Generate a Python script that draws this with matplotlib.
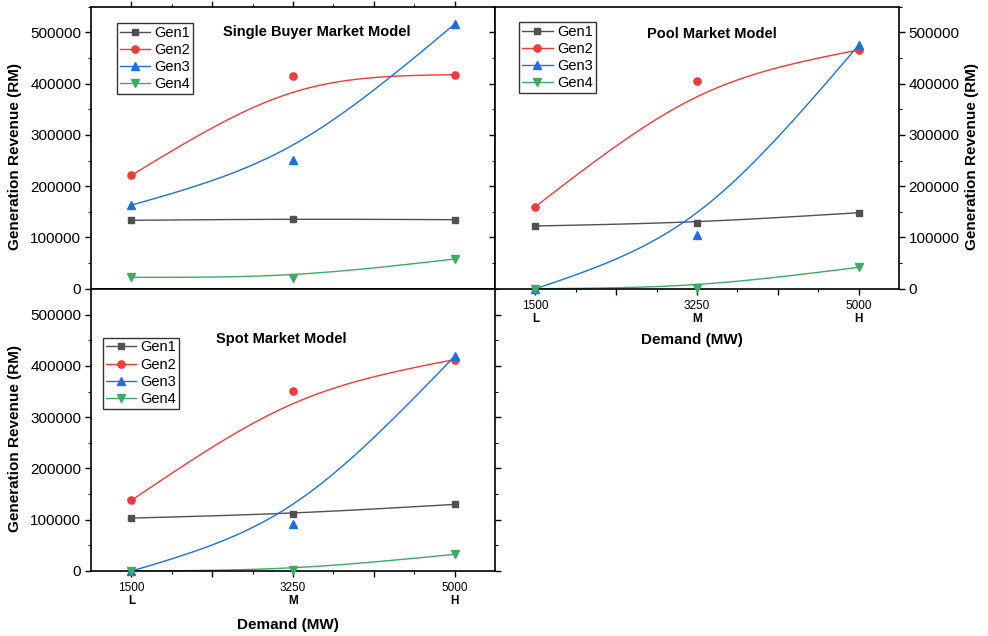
"""Generation revenue vs demand for three market models (Origin-style panels)."""

import matplotlib

matplotlib.use("Agg")
import matplotlib.pyplot as plt
import numpy as np
from matplotlib.lines import Line2D
from matplotlib.ticker import MultipleLocator, FixedLocator

plt.rcParams["font.family"] = ["Liberation Sans", "DejaVu Sans"]

# ---- data -------------------------------------------------------------
demand = [1500, 3250, 5000]
levels = ["L", "M", "H"]
gens = ["Gen1", "Gen2", "Gen3", "Gen4"]

single_buyer = {
    "Gen1": [133400, 136000, 134600],
    "Gen2": [221000, 414800, 417300],
    "Gen3": [163000, 251000, 516000],
    "Gen4": [22200, 21600, 57900],
}
pool = {
    "Gen1": [122300, 128700, 148200],
    "Gen2": [160000, 405000, 465500],
    "Gen3": [0, 104000, 475000],
    "Gen4": [0, 2000, 41700],
}
spot = {
    "Gen1": [103200, 111600, 129900],
    "Gen2": [137700, 352000, 412300],
    "Gen3": [0, 91000, 418800],
    "Gen4": [0, 1500, 32500],
}

colors = {"Gen1": "#505050", "Gen2": "#EE3B3B", "Gen3": "#1F6FDD", "Gen4": "#3DAA66"}
markers = {"Gen1": "s", "Gen2": "o", "Gen3": "^", "Gen4": "v"}
msizes = {"Gen1": 4.6, "Gen2": 5.2, "Gen3": 5.4, "Gen4": 5.4}


def smooth(x, y, n=120, w=8.0 / 9.0):
    """Origin-like B-spline connector: cubic Bezier pulled toward the middle point."""
    p0 = np.array([x[0], y[0]], float)
    p1 = np.array([x[1], y[1]], float)
    p2 = np.array([x[2], y[2]], float)
    c1 = p0 + w * (p1 - p0)
    c2 = p2 + w * (p1 - p2)
    t = np.linspace(0, 1, n)[:, None]
    pts = ((1 - t) ** 3) * p0 + 3 * ((1 - t) ** 2) * t * c1 + 3 * (1 - t) * t ** 2 * c2 + t ** 3 * p2
    return pts[:, 0], pts[:, 1]


def draw_panel(ax, data, title, title_xy, legend_xy, ylab_side="left", xlabel_y=None):
    for g in gens:
        sx, sy = smooth(demand, data[g])
        ax.plot(sx, sy, color=colors[g], lw=1.0, zorder=2)
        ax.plot(demand, data[g], ls="none", marker=markers[g], ms=msizes[g],
                color=colors[g], mec=colors[g], zorder=3, clip_on=False)

    ax.set_xlim(1062.5, 5437.5)
    ax.set_ylim(0, 550000)
    ax.xaxis.set_major_locator(FixedLocator([1500, 2375, 3250, 4125, 5000]))
    ax.xaxis.set_minor_locator(FixedLocator([1937.5, 2812.5, 3687.5, 4562.5]))
    ax.set_xticklabels(["1500", "", "3250", "", "5000"])
    ax.yaxis.set_major_locator(MultipleLocator(100000))
    ax.yaxis.set_minor_locator(MultipleLocator(50000))
    ax.tick_params(which="major", direction="out", length=4, width=1.0, labelsize=11, pad=3)
    ax.tick_params(which="minor", direction="out", length=2.2, width=0.8)
    ax.tick_params(axis="x", which="major", labelsize=8.5, pad=4.2)
    for sp in ax.spines.values():
        sp.set_linewidth(1.2)

    trans = ax.get_xaxis_transform()
    for xv, lv in zip(demand, levels):
        ax.text(xv, -0.108, lv, transform=trans, ha="center", va="center",
                fontsize=8.5, fontweight="bold")

    ax.set_ylabel("Generation Revenue (RM)", fontsize=11, fontweight="bold")
    if ylab_side == "right":
        ax.yaxis.tick_right()
        ax.tick_params(axis="y", which="both", left=True, right=True, labelleft=False, labelright=True)
        ax.yaxis.set_label_position("right")
        ax.yaxis.set_label_coords(1.163, 0.47)
    else:
        ax.yaxis.set_label_coords(-0.170, 0.47)

    if xlabel_y is not None:
        ax.set_xlabel("Demand (MW)", fontsize=11, fontweight="bold")
        ax.xaxis.set_label_coords(0.488, xlabel_y)

    ax.text(title_xy[0], title_xy[1], title, transform=ax.transAxes, ha="center",
            va="center", fontsize=10.5, fontweight="bold")

    handles = [Line2D([], [], color=colors[g], lw=1.0, marker=markers[g],
                      ms=msizes[g], mec=colors[g]) for g in gens]
    leg = ax.legend(handles, gens, loc="upper left", bbox_to_anchor=legend_xy,
                    fontsize=10.5, frameon=True, fancybox=False, edgecolor="black",
                    borderaxespad=0, borderpad=0.2, labelspacing=0.22,
                    handlelength=2.1, handletextpad=0.3, numpoints=1)
    leg.get_frame().set_linewidth(1.0)


fig = plt.figure(figsize=(9.88, 6.36), dpi=100)
W, H = 988.0, 636.0
ax_tl = fig.add_axes([91 / W, 1 - 288.7 / H, 404 / W, 282 / H])
ax_tr = fig.add_axes([495 / W, 1 - 288.7 / H, 404 / W, 282 / H])
ax_bl = fig.add_axes([91 / W, 1 - 571 / H, 404 / W, 282 / H])

draw_panel(ax_tl, single_buyer, "Single Buyer Market Model", (0.56, 0.912),
           (0.0636, 0.943))
ax_tl.tick_params(which="both", top=True)

draw_panel(ax_tr, pool, "Pool Market Model", (0.537, 0.903), (0.060, 0.946),
           ylab_side="right", xlabel_y=-0.157)

draw_panel(ax_bl, spot, "Spot Market Model", (0.472, 0.822), (0.029, 0.828),
           xlabel_y=-0.167)
ax_bl.tick_params(which="both", right=True)

fig.savefig("out.png", dpi=100)
plt.close(fig)
